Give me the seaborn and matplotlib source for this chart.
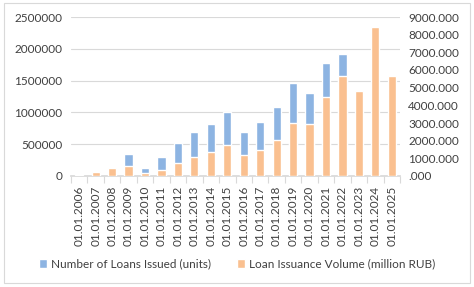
import matplotlib.pyplot as plt
import numpy as np
import pandas as pd
import seaborn as sns
from matplotlib.patches import Patch, Rectangle
from matplotlib.ticker import FixedLocator, FuncFormatter

YEARS: list[str] = [f"01.01.{y}" for y in range(2006, 2026)]
LOANS_UNITS: list[int] = [
    0, 0, 0, 341000, 130000, 299000, 524000, 687000, 823000, 1011000,
    692000, 849000, 1090000, 1467000, 1310000, 1781000, 1913000, 0, 0, 0,
]
VOLUME_MLN_RUB: list[float] = [
    60, 210, 440, 580, 190, 360, 735, 1055, 1356, 1770,
    1186, 1487, 2015, 2994, 2938, 4444, 5650, 4800, 8435, 5650,
]

BLUE: str = "#8DB4E2"
ORANGE: str = "#FAC090"
GRID: str = "#D9D9D9"
TEXT: str = "#404040"
FS: float = 8.5

df: pd.DataFrame = pd.DataFrame(
    {"date": YEARS, "loans": LOANS_UNITS, "volume": VOLUME_MLN_RUB}
)

sns.set_theme(style="white")
plt.rcParams["font.family"] = ["Lato", "DejaVu Sans"]

fig = plt.figure(figsize=(4.74, 2.87), dpi=100)
ax = fig.add_axes([71 / 474, 1 - 176 / 287, 329 / 474, 159 / 287])
ax2 = ax.twinx()

sns.barplot(data=df, x="date", y="loans", color=BLUE, width=0.5,
            saturation=1, ax=ax, zorder=2)
sns.barplot(data=df, x="date", y="volume", color=ORANGE, width=0.5,
            saturation=1, ax=ax2, zorder=2)

ax.set_ylim(0, 2500000)
ax2.set_ylim(0, 9000)
ax.set_xlim(-0.5, len(YEARS) - 0.5)
ax.set_yticks(np.arange(0, 2500001, 500000))
ax.yaxis.set_major_formatter(FuncFormatter(lambda v, _: f"{int(v)}"))
ax2.set_yticks(np.arange(0, 9001, 1000))
ax2.yaxis.set_major_formatter(
    FuncFormatter(lambda v, _: ".000" if v == 0 else f"{v:.3f}")
)
ax.yaxis.grid(True, color=GRID, linewidth=0.8, zorder=0)
ax.set_axisbelow(True)

for a in (ax, ax2):
    a.set_xlabel("")
    a.set_ylabel("")
    for s in ("top", "left", "right"):
        a.spines[s].set_visible(False)
    a.spines["bottom"].set_color(GRID)
    a.tick_params(axis="y", length=0, labelsize=FS, labelcolor=TEXT, pad=6)

ax2.spines["bottom"].set_visible(False)
ax.set_xticks(range(len(YEARS)))
ax.set_xticklabels(YEARS, rotation=90)
ax.tick_params(axis="x", which="major", length=0, labelsize=FS,
               labelcolor=TEXT, pad=7)
ax.xaxis.set_minor_locator(FixedLocator(np.arange(-0.5, len(YEARS), 1.0)))
ax.tick_params(axis="x", which="minor", length=5, color=GRID, width=0.8,
               bottom=True)

handles = [
    Patch(facecolor=BLUE, label="Number of Loans Issued (units)"),
    Patch(facecolor=ORANGE, label="Loan Issuance Volume (million RUB)"),
]
fig.legend(handles=handles, loc="center", bbox_to_anchor=(0.5, 1 - 264 / 287),
           ncol=2, frameon=False, fontsize=FS, handlelength=0.7,
           handleheight=0.7, handletextpad=0.3, columnspacing=2.2,
           labelcolor=TEXT)

fig.patches.append(Rectangle((4 / 474, 4 / 287), 466 / 474, 280 / 287,
                             transform=fig.transFigure, fill=False,
                             edgecolor=GRID, linewidth=0.8))

fig.savefig("out.png", dpi=100)
